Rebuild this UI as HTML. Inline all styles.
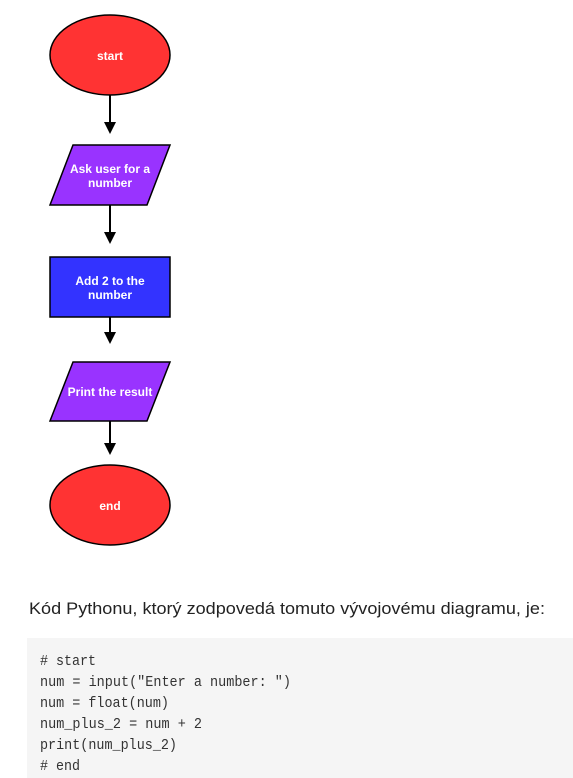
<!DOCTYPE html>
<html><head><meta charset="utf-8"><style>
html,body{margin:0;padding:0;background:#fff;width:573px;height:778px;overflow:hidden}
</style></head><body>
<svg width="573" height="778" viewBox="0 0 573 778" xmlns="http://www.w3.org/2000/svg">
<g stroke="#000" stroke-width="1.5">
<ellipse cx="110" cy="55" rx="60" ry="40" fill="#ff3333"/>
<polygon points="73,145 170,145 147,205 50,205" fill="#9933ff"/>
<rect x="50" y="257" width="120" height="60" fill="#3333ff"/>
<polygon points="73,362 170,362 147,421 50,421" fill="#9933ff"/>
<ellipse cx="110" cy="505" rx="60" ry="40" fill="#ff3333"/>
<line x1="110" y1="95" x2="110" y2="126" stroke-width="2"/>
<line x1="110" y1="205" x2="110" y2="236" stroke-width="2"/>
<line x1="110" y1="317" x2="110" y2="336" stroke-width="2"/>
<line x1="110" y1="421" x2="110" y2="447" stroke-width="2"/>
</g>
<g fill="#000">
<polygon points="104,122 116,122 110,134"/>
<polygon points="104,232 116,232 110,244"/>
<polygon points="104,332 116,332 110,344"/>
<polygon points="104,443 116,443 110,455"/>
</g>
<g fill="#fff" font-family="Liberation Sans, sans-serif" font-weight="bold" font-size="12" text-anchor="middle">
<text x="110" y="60">start</text>
<text x="110" y="173">Ask user for a</text>
<text x="110" y="187">number</text>
<text x="110" y="285">Add 2 to the</text>
<text x="110" y="299">number</text>
<text x="110" y="396">Print the result</text>
<text x="110" y="510">end</text>
</g>
<text x="29" y="614" font-family="Liberation Sans, sans-serif" font-size="17" fill="#222" textLength="516" lengthAdjust="spacingAndGlyphs">Kód Pythonu, ktorý zodpovedá tomuto vývojovému diagramu, je:</text>
<rect x="27" y="638" width="546" height="140" fill="#f5f5f5"/>
<g font-family="Liberation Mono, monospace" font-size="15" fill="#333">
<text x="40" y="665" textLength="56" lengthAdjust="spacingAndGlyphs"># start</text>
<text x="40" y="686" textLength="251" lengthAdjust="spacingAndGlyphs">num = input("Enter a number: ")</text>
<text x="40" y="707" textLength="129" lengthAdjust="spacingAndGlyphs">num = float(num)</text>
<text x="40" y="728" textLength="162" lengthAdjust="spacingAndGlyphs">num_plus_2 = num + 2</text>
<text x="40" y="749" textLength="137" lengthAdjust="spacingAndGlyphs">print(num_plus_2)</text>
<text x="40" y="770" textLength="40" lengthAdjust="spacingAndGlyphs"># end</text>
</g>
</svg>
</body></html>
